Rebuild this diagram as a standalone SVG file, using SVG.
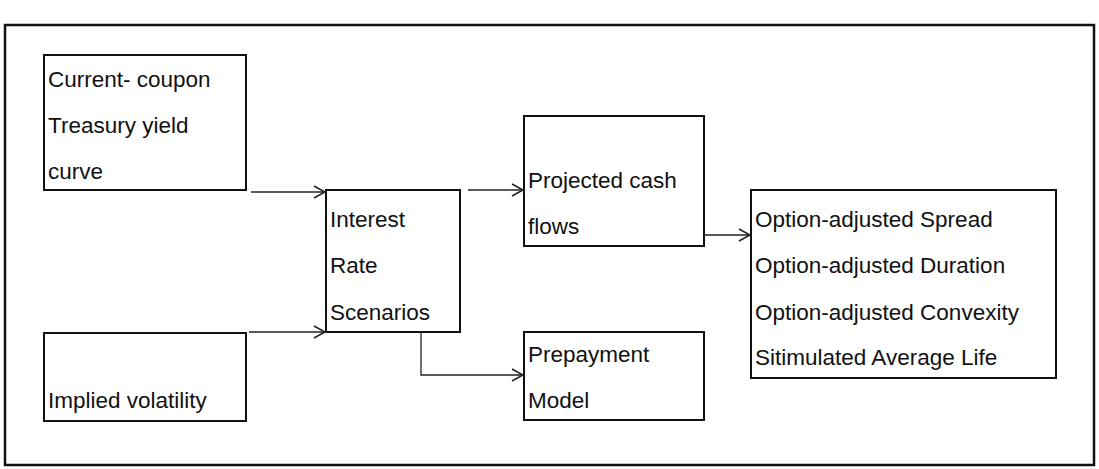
<svg xmlns="http://www.w3.org/2000/svg" width="1099" height="469" viewBox="0 0 1099 469">
<style>
.b{fill:#fff;stroke:#111;stroke-width:2}
text{font-family:"Liberation Sans",Arial,sans-serif;font-size:22.5px;fill:#111}
.c{stroke:#222;stroke-width:1.3;fill:none}
</style>
<defs><marker id="a" markerWidth="14" markerHeight="14" refX="12" refY="7" orient="auto" markerUnits="userSpaceOnUse"><path d="M1,1 L12,7 L1,13" fill="none" stroke="#222" stroke-width="1.5"/></marker></defs>
<rect x="5" y="25" width="1089" height="440" fill="#fff" stroke="#111" stroke-width="2.5"/>
<g id="n1"><rect class="b" x="44" y="55" width="202" height="135"/><text x="48" y="87">Current- coupon</text><text x="48" y="133">Treasury yield</text><text x="48" y="179">curve</text></g>
<g id="n2"><rect class="b" x="44" y="333" width="202" height="88"/><text x="48" y="408">Implied volatility</text></g>
<g id="n3"><rect class="b" x="326" y="190" width="134" height="142"/><text x="330" y="227">Interest</text><text x="330" y="273">Rate</text><text x="330" y="320">Scenarios</text></g>
<g id="n4"><rect class="b" x="524" y="116" width="180" height="130"/><text x="528" y="188">Projected cash</text><text x="528" y="234">flows</text></g>
<g id="n5"><rect class="b" x="524" y="332" width="180" height="88"/><text x="528" y="362">Prepayment</text><text x="528" y="408">Model</text></g>
<g id="n6"><rect class="b" x="751" y="190" width="305" height="188"/><text x="755" y="227">Option-adjusted Spread</text><text x="755" y="273">Option-adjusted Duration</text><text x="755" y="320">Option-adjusted Convexity</text><text x="755" y="365">Sitimulated Average Life</text></g>
<g id="connectors">
<path class="c" d="M251,192 H325" marker-end="url(#a)"/>
<path class="c" d="M249,332 H325" marker-end="url(#a)"/>
<path class="c" d="M468,190 H523" stroke-width="2.5" marker-end="url(#a)"/>
<path class="c" d="M421,333 V375 H523" marker-end="url(#a)"/>
<path class="c" d="M704,235 H750" marker-end="url(#a)"/>
</g>
</svg>
